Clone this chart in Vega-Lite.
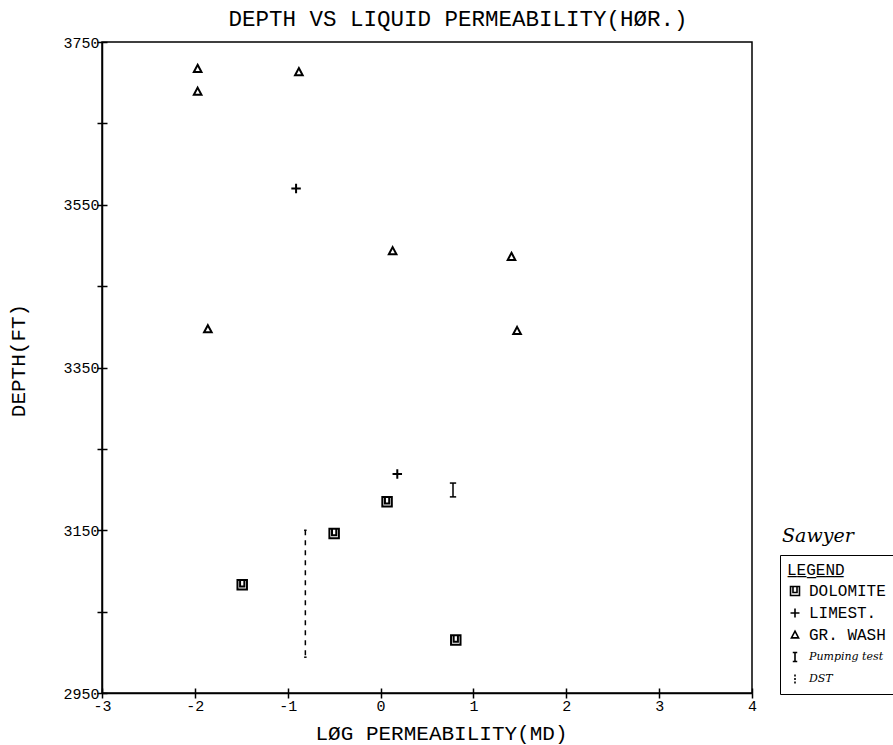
{
  "$schema": "https://vega.github.io/schema/vega-lite/v6.json",
  "width": 650,
  "height": 651,
  "autosize": "none",
  "padding": {"left": 102, "top": 42, "right": 141, "bottom": 52},
  "background": "white",
  "title": {
    "text": "DEPTH VS LIQUID PERMEABILITY(HØR.)",
    "font": "Liberation Mono",
    "fontSize": 22.5,
    "fontWeight": "normal",
    "color": "black",
    "baseline": "alphabetic",
    "frame": "group",
    "offset": 14,
    "dx": 31,
    "dy": 27
  },
  "config": {
    "view": {"stroke": "black", "strokeWidth": 1.5},
    "axis": {
      "grid": true,
      "gridColor": "black",
      "gridWidth": 1.5,
      "gridOpacity": 1,
      "domainColor": "black",
      "domainWidth": 1.5,
      "tickColor": "black",
      "tickWidth": 1.5,
      "tickSize": 5,
      "labelColor": "black",
      "titleColor": "black",
      "labelFont": "Liberation Mono",
      "titleFont": "Liberation Mono",
      "titleFontWeight": "normal",
      "labelFlush": false,
      "labelOverlap": false
    }
  },
  "datasets": {
    "samples": [
      {"litho": "GR. WASH", "logk": -1.97, "depth": 3717},
      {"litho": "GR. WASH", "logk": -1.97, "depth": 3689},
      {"litho": "GR. WASH", "logk": -0.88, "depth": 3713},
      {"litho": "GR. WASH", "logk": 0.13, "depth": 3493},
      {"litho": "GR. WASH", "logk": 1.41, "depth": 3486},
      {"litho": "GR. WASH", "logk": -1.86, "depth": 3397},
      {"litho": "GR. WASH", "logk": 1.47, "depth": 3395},
      {"litho": "LIMEST.", "logk": -0.91, "depth": 3570},
      {"litho": "LIMEST.", "logk": 0.18, "depth": 3219},
      {"litho": "DOLOMITE", "logk": -1.49, "depth": 3083},
      {"litho": "DOLOMITE", "logk": -0.5, "depth": 3146},
      {"litho": "DOLOMITE", "logk": 0.07, "depth": 3185},
      {"litho": "DOLOMITE", "logk": 0.81, "depth": 3015}
    ],
    "tests": [
      {"test": "Pumping test", "logk": 0.78, "top": 3208, "base": 3191},
      {"test": "DST", "logk": -0.81, "top": 3150, "base": 2994}
    ]
  },
  "layer": [
    {
      "data": {"name": "samples"},
      "mark": {"type": "point", "filled": false, "stroke": "black", "strokeWidth": 2, "size": 90, "opacity": 1},
      "encoding": {
        "x": {
          "field": "logk",
          "type": "quantitative",
          "scale": {"domain": [-3, 4], "nice": false, "zero": false},
          "axis": {
            "values": [-3, -2, -1, 0, 1, 2, 3, 4],
            "gridDash": [0, 646, 5, 2000],
            "labelPadding": 0,
            "labelFontSize": 15,
            "labelDx": 7,
            "labelExpr": "datum.value < 0 ? '-' + abs(datum.value) : '' + datum.value",
            "title": "LØG PERMEABILITY(MD)",
            "titleFontSize": 21,
            "titleX": 339,
            "titleY": 40,
            "titleBaseline": "middle",
            "titleAlign": "center"
          }
        },
        "y": {
          "field": "depth",
          "type": "quantitative",
          "scale": {"domain": [2950, 3750], "nice": false, "zero": false},
          "axis": {
            "values": [2950, 3050, 3150, 3250, 3350, 3450, 3550, 3650, 3750],
            "gridDash": [5, 2000],
            "labelPadding": -2,
            "labelFontSize": 15,
            "labelExpr": "datum.value % 200 == 150 ? '' + datum.value : ''",
            "title": "DEPTH(FT)",
            "titleFontSize": 21,
            "titleX": -84,
            "titleY": 318,
            "titleBaseline": "middle",
            "titleAlign": "center"
          }
        },
        "shape": {
          "field": "litho",
          "type": "nominal",
          "scale": {
            "domain": ["DOLOMITE", "LIMEST.", "GR. WASH", "Pumping test", "DST"],
            "range": [
              "M-1,-1H1V1H-1Z M-0.45,-1V0.35H0.45V-1",
              "M-1,0H1M0,-1V1",
              "M0,-0.85L0.8,0.65H-0.8Z",
              "M-0.5,-1H0.5M0,-1V1M-0.5,1H0.5",
              "M0,-1V-0.55M0,-0.2V0.2M0,0.55V1"
            ]
          },
          "legend": {
            "title": "L̲E̲G̲E̲N̲D̲",
            "orient": "none",
            "legendX": 678,
            "legendY": 513,
            "titleFont": "Liberation Mono",
            "titleFontSize": 16,
            "titleFontWeight": "normal",
            "titleColor": "black",
            "titlePadding": 5,
            "labelFont": {"expr": "datum.value == 'Pumping test' || datum.value == 'DST' ? 'DejaVu Serif' : 'Liberation Mono'"},
            "labelFontStyle": {"expr": "datum.value == 'Pumping test' || datum.value == 'DST' ? 'italic' : 'normal'"},
            "labelFontSize": {"expr": "datum.value == 'Pumping test' || datum.value == 'DST' ? 11 : 16"},
            "labelColor": "black",
            "labelOffset": 6,
            "labelLimit": 200,
            "padding": 7,
            "strokeColor": "black",
            "fillColor": "white",
            "symbolStrokeColor": "black",
            "symbolStrokeWidth": 1.6,
            "symbolFillColor": "transparent",
            "symbolSize": 80,
            "rowPadding": 6
          }
        }
      }
    },
    {
      "data": {"name": "tests"},
      "mark": {"type": "rule", "stroke": "black", "strokeWidth": 1.5},
      "encoding": {
        "x": {"field": "logk", "type": "quantitative"},
        "y": {"field": "top", "type": "quantitative"},
        "y2": {"field": "base"},
        "strokeDash": {
          "field": "test",
          "type": "nominal",
          "scale": {"domain": ["Pumping test", "DST"], "range": [[1, 0], [5, 5]]},
          "legend": null
        }
      }
    },
    {
      "data": {"name": "tests"},
      "mark": {"type": "point", "shape": "stroke", "stroke": "black", "strokeWidth": 1.5, "opacity": 1},
      "encoding": {
        "x": {"field": "logk", "type": "quantitative"},
        "y": {"field": "top", "type": "quantitative"},
        "size": {
          "field": "test",
          "type": "nominal",
          "scale": {"domain": ["Pumping test", "DST"], "range": [40, 6]},
          "legend": null
        }
      }
    },
    {
      "data": {"name": "tests"},
      "mark": {"type": "point", "shape": "stroke", "stroke": "black", "strokeWidth": 1.5, "opacity": 1},
      "encoding": {
        "x": {"field": "logk", "type": "quantitative"},
        "y": {"field": "base", "type": "quantitative"},
        "size": {"field": "test", "type": "nominal", "legend": null}
      }
    },
    {
      "data": {"values": [{}]},
      "mark": {"type": "text", "font": "DejaVu Serif", "fontStyle": "italic", "fontSize": 19, "color": "black", "align": "center", "baseline": "middle"},
      "encoding": {
        "x": {"datum": 4.71, "type": "quantitative"},
        "y": {"datum": 3143, "type": "quantitative"},
        "text": {"value": "Sawyer"}
      }
    }
  ]
}
